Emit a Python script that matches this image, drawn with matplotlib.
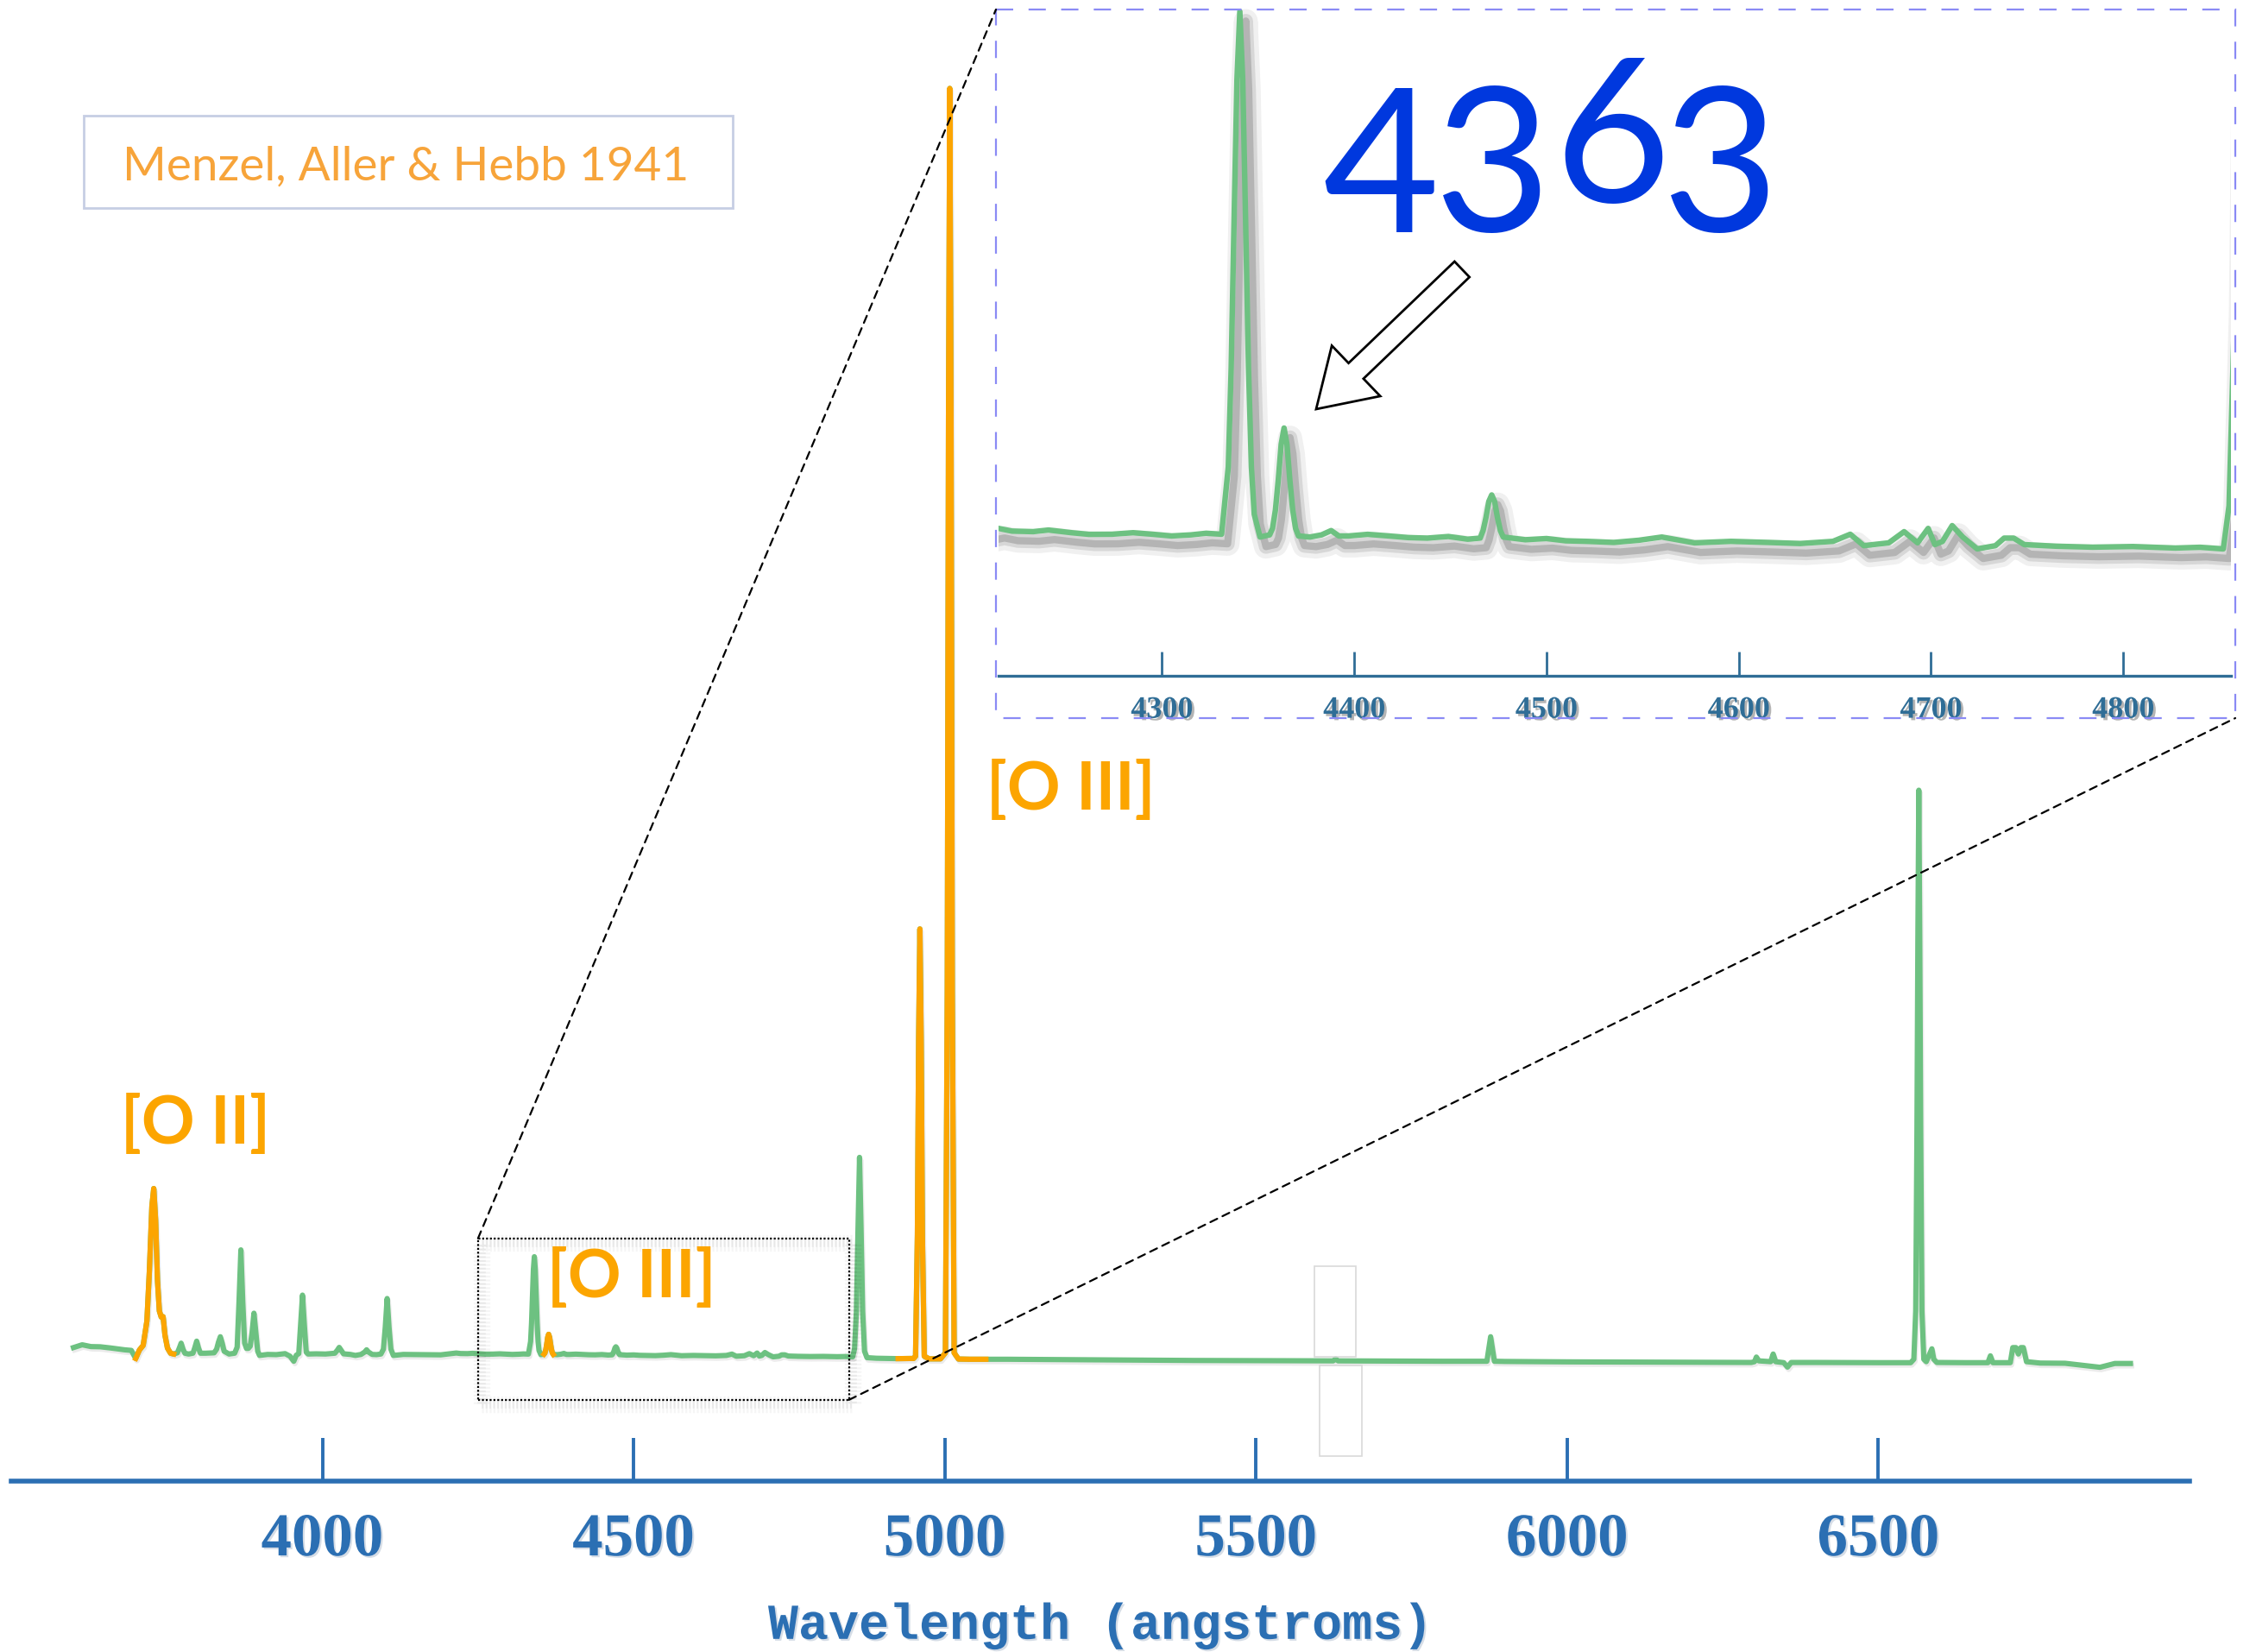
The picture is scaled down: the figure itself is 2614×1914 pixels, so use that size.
import numpy as np
import matplotlib
matplotlib.use('Agg')
import matplotlib.pyplot as plt
import matplotlib.patheffects as pe
from matplotlib.patches import Rectangle, FancyArrow, ConnectionPatch

W, H = 2614, 1915

# spectrum of the nebula, relative flux (H-beta ~ 100), read in three stretches
wave_blue = [3600, 3614, 3628, 3643, 3660, 3682, 3693, 3700, 3706, 3712,
             3718, 3722, 3726, 3729, 3732, 3735, 3738, 3741, 3744, 3747,
             3751, 3756, 3761, 3767, 3770, 3773, 3776, 3779, 3785, 3792,
             3795, 3798, 3801, 3804, 3812, 3826, 3830, 3833, 3836, 3839,
             3842, 3850, 3859, 3863, 3866, 3869, 3872, 3875, 3878, 3881,
             3884, 3887, 3890, 3893, 3896, 3899, 3912, 3926, 3940, 3948,
             3954, 3958, 3962, 3965, 3968, 3971, 3974, 3977, 3990, 4005,
             4020, 4024, 4027, 4030, 4034, 4045, 4053, 4062, 4068, 4071,
             4074, 4080, 4087, 4094, 4098, 4101, 4104, 4107, 4110, 4114,
             4130, 4160, 4190]
flux_blue = [11.8, 13.2, 12.3, 12.2, 11.6, 10.7, 10.4, 6.4, 10.6, 12.9,
             25.0, 50.0, 82.0, 90.9, 75.0, 45.0, 30.0, 27.0, 27.2, 18.0,
             11.6, 9.0, 8.6, 9.2, 11.5, 14.0, 11.0, 9.0, 8.6, 9.0,
             11.8, 15.0, 11.5, 9.0, 9.0, 9.2, 11.0, 14.5, 17.2, 14.0,
             10.0, 8.6, 9.0, 12.0, 34.7, 60.4, 34.7, 14.0, 11.4, 11.4,
             12.5, 19.5, 28.9, 19.5, 10.0, 7.9, 8.4, 8.3, 8.8, 7.5,
             5.0, 8.0, 8.8, 23.0, 37.9, 23.0, 9.5, 8.6, 8.7, 8.6,
             9.0, 10.5, 11.9, 10.5, 8.7, 8.4, 7.9, 8.4, 9.6, 10.7,
             9.6, 8.4, 8.3, 8.6, 11.0, 22.0, 36.2, 22.0, 11.0, 7.9,
             8.4, 8.3, 8.2]

wave_mid = [4215, 4222, 4233, 4241, 4253, 4262, 4274, 4285, 4295, 4305,
            4315, 4323, 4331, 4334.5, 4336, 4337.5, 4339, 4340.5, 4342, 4343.5,
            4345, 4346.5, 4348, 4351, 4356, 4357.5, 4359, 4360.5, 4362, 4363.5,
            4365, 4366.5, 4368, 4369.5, 4371, 4377, 4383, 4388, 4392, 4397,
            4407, 4418, 4428, 4438, 4449, 4459, 4465.5, 4467, 4468.5, 4470,
            4471.5, 4473, 4474.5, 4476, 4477.5, 4489, 4500, 4510, 4521, 4535,
            4548, 4560, 4577, 4596, 4615, 4632, 4649, 4658, 4665, 4678,
            4686, 4693, 4698.5, 4702, 4706, 4711, 4716.5, 4724, 4733.5, 4738,
            4743, 4748.5, 4765, 4784, 4805, 4827, 4840, 4852]
flux_mid = [9.1, 8.85, 8.8, 8.95, 8.7, 8.55, 8.56, 8.7, 8.56, 8.4,
            8.5, 8.65, 8.56, 14.8, 24.0, 37.6, 50.7, 57.0, 50.7, 37.6,
            24.0, 14.8, 10.4, 8.3, 8.5, 9.1, 10.8, 13.6, 16.9, 18.4,
            16.9, 13.6, 10.8, 9.1, 8.4, 8.3, 8.5, 8.9, 8.4, 8.4,
            8.55, 8.4, 8.25, 8.2, 8.35, 8.1, 8.2, 8.9, 10.1, 11.6,
            12.2, 11.6, 10.1, 8.9, 8.3, 8.05, 8.16, 7.95, 7.9, 7.8,
            8.0, 8.3, 7.76, 7.9, 7.8, 7.7, 7.9, 8.56, 7.5, 7.76,
            8.8, 7.76, 9.1, 7.6, 7.9, 9.36, 8.3, 7.2, 7.5, 8.2,
            8.2, 7.6, 7.45, 7.36, 7.42, 7.28, 7.35, 7.2]

wave_red = [4855, 4858, 4860.5, 4863, 4865.5, 4868, 4871, 4875, 4890, 4910,
            4925, 4950, 4953, 4956, 4958, 4960, 4962, 4964, 4967, 4975,
            4993, 5001, 5004, 5006, 5008, 5010, 5012, 5015, 5022, 5040,
            5066, 5100, 5200, 5300, 5400, 5500, 5560, 5624, 5628, 5632,
            5700, 5800, 5871, 5874, 5877, 5880, 5883, 5900, 6000, 6100,
            6200, 6296, 6301, 6304, 6308, 6327, 6331, 6335, 6348, 6354,
            6360, 6400, 6500, 6552, 6557, 6560, 6562, 6563.5, 6565, 6566.5,
            6568, 6570, 6573, 6577, 6583, 6586, 6589, 6594, 6640, 6676,
            6680, 6684, 6712, 6716, 6721, 6725, 6729, 6733, 6738, 6760,
            6800, 6856, 6880, 6905]
flux_red = [11.2, 30.0, 70.0, 106.4, 70.0, 30.0, 10.0, 6.8, 6.5, 6.4,
            6.3, 6.4, 7.5, 68.0, 165.0, 220.0, 165.0, 68.0, 7.5, 6.2,
            6.2, 9.2, 189.0, 474.0, 638.0, 474.0, 189.0, 9.2, 6.1, 6.0,
            6.0, 6.0, 5.8, 5.6, 5.4, 5.3, 5.2, 5.2, 6.2, 5.2,
            5.1, 5.0, 5.0, 11.1, 17.2, 11.1, 5.0, 4.9, 4.7, 4.6,
            4.5, 4.4, 4.8, 7.1, 5.2, 4.8, 8.6, 4.8, 4.3, 2.1,
            4.4, 4.4, 4.3, 4.3, 6.0, 30.0, 120.0, 215.0, 289.0, 215.0,
            120.0, 30.0, 6.0, 4.8, 9.0, 11.2, 6.0, 4.4, 4.3, 4.3,
            7.7, 4.3, 4.3, 11.8, 11.8, 8.6, 11.8, 11.8, 4.8, 4.1,
            4.0, 2.0, 3.9, 3.9]

# forbidden oxygen lines drawn in orange
oxygen_ranges = [(3698, 3762), (4355, 4373), (4920, 5066)]

main_ticks = [4000, 4500, 5000, 5500, 6000, 6500]
main_labels = ['4000', '4500', '5000', '5500', '6000', '6500']
inset_ticks = [4300, 4400, 4500, 4600, 4700, 4800]
inset_labels = ['4300', '4400', '4500', '4600', '4700', '4800']

main_xlim = (3500, 7000)
main_ylim = (-54.6, 682.4)
inset_xlim = (4215, 4856)
inset_ylim = (-4.56, 57.5)
zoom_box = (4250, 4846, -14.2, 66.1)   # lo, hi wavelength, lo, hi flux

GREEN = '#6dc181'
ORANGE = '#fca500'
BLUE = '#2b6fb3'
INSET_BLUE = '#2f6d96'
LABEL_ORANGE = '#f7a43a'

wave = np.array(wave_blue + wave_mid + wave_red)
flux = np.array(flux_blue + flux_mid + flux_red)


def px_rect(left, top, right, bottom):
    return [left / W, 1 - bottom / H, (right - left) / W, (bottom - top) / H]


fig = plt.figure(figsize=(W / 100, H / 100), dpi=100)
fig.patch.set_facecolor('white')

# main spectrum
ax = fig.add_axes(px_rect(13, 0, 2537, 1717), zorder=1)
ax.set_xlim(*main_xlim)
ax.set_ylim(*main_ylim)
ax.plot(wave, flux, color=GREEN, lw=4.4, solid_joinstyle='round',
        path_effects=[pe.SimpleLineShadow(offset=(1, -2), shadow_color='k', alpha=0.08),
                      pe.Normal()])
for lo, hi in oxygen_ranges:
    m = (wave >= lo) & (wave <= hi)
    ax.plot(wave[m], flux[m], color=ORANGE, lw=4.4, solid_joinstyle='round')

for s in ['top', 'left', 'right']:
    ax.spines[s].set_visible(False)
ax.spines['bottom'].set_color(BLUE)
ax.spines['bottom'].set_linewidth(4)
ax.set_yticks([])
ax.set_xticks(main_ticks, labels=main_labels, fontsize=51, fontweight='bold',
              fontfamily='Liberation Serif', color=BLUE,
              path_effects=[pe.withSimplePatchShadow(offset=(1.5, -1.5),
                                                     shadow_rgbFace='#8aa0b8', alpha=0.35)])
ax.tick_params(axis='x', direction='in', length=36, width=2.8, color=BLUE, pad=26)
ax.set_xlabel('Wavelength (angstroms)', fontsize=42, fontweight='bold',
              fontfamily='Liberation Mono', color=BLUE,
              path_effects=[pe.withSimplePatchShadow(offset=(1.5, -1.5),
                                                     shadow_rgbFace='#8aa0b8', alpha=0.35)])
ax.xaxis.set_label_coords(0.5, -0.082)
ax.patch.set_visible(False)

# dotted box marking the zoomed range
zl, zh, fl, fh = zoom_box
ax.add_patch(Rectangle((zl, fl), zh - zl, fh - fl, fill=False, ec='k', lw=1.6,
                       ls=(0, (1, 1)), zorder=4,
                       path_effects=[pe.SimpleLineShadow(offset=(3, -4), shadow_color='k',
                                                         alpha=0.04, linewidth=14),
                                     pe.SimpleLineShadow(offset=(3, -4), shadow_color='k',
                                                         alpha=0.05, linewidth=7),
                                     pe.Normal()]))

# zoomed inset around H-gamma and [O III] 4363
ins = fig.add_axes(px_rect(1157, 8, 2585, 784), zorder=3)
ins.set_xlim(*inset_xlim)
ins.set_ylim(*inset_ylim)
line_shadow = [pe.SimpleLineShadow(offset=(5, -8), shadow_color='k', alpha=0.06, linewidth=20),
               pe.SimpleLineShadow(offset=(5, -8), shadow_color='k', alpha=0.10, linewidth=12),
               pe.SimpleLineShadow(offset=(5, -8), shadow_color='k', alpha=0.16, linewidth=6),
               pe.Normal()]
ins.plot(wave, flux, color=GREEN, lw=4.6, solid_joinstyle='round', path_effects=line_shadow)
for s in ['top', 'left', 'right']:
    ins.spines[s].set_visible(False)
ins.spines['bottom'].set_color(INSET_BLUE)
ins.spines['bottom'].set_linewidth(2.4)
ins.set_yticks([])
ins.set_xticks(inset_ticks, labels=inset_labels, fontsize=26, fontweight='bold',
               fontfamily='Liberation Serif', color=INSET_BLUE,
               path_effects=[pe.withSimplePatchShadow(offset=(2, -2),
                                                      shadow_rgbFace='0.35', alpha=0.45)])
ins.tick_params(axis='x', direction='in', length=20, width=2.0, color=INSET_BLUE, pad=17)
ins.patch.set_visible(False)

# overlay in pixel units for the annotations
ov = fig.add_axes([0, 0, 1, 1], zorder=5)
ov.set_xlim(0, W)
ov.set_ylim(H, 0)
ov.axis('off')

ov.add_patch(Rectangle((1154, 12), 2590 - 1154, 833 - 12, fill=False, ec='#8a8af5',
                       lw=1.6, ls=(0, (9, 8))))
for xyA, xyB in [((zl, fh), (1154, 12)), ((zh, fl), (2590, 833))]:
    con = ConnectionPatch(xyA=xyA, coordsA=ax.transData, xyB=xyB, coordsB=ov.transData,
                          color='k', lw=1.6, ls=(0, (4, 3)), zorder=6)
    fig.add_artist(con)

# faint leftover frames around 5650 A
ov.add_patch(Rectangle((1523, 1468), 48, 105, fill=False, ec='#d9d9d9', lw=1.2))
ov.add_patch(Rectangle((1529, 1583), 49, 105, fill=False, ec='#d9d9d9', lw=1.2))

# reference box
ov.add_patch(Rectangle((97, 135), 849 - 97, 242 - 135, fill=False, ec='#c6cee4', lw=2))
ov.text(470, 209, 'Menzel, Aller & Hebb 1941', fontsize=39.5, family='Lato',
        color=LABEL_ORANGE, ha='center', va='baseline')

for x, y, s in [(227, 1303, '[O II]'), (732, 1481, '[O III]'), (1241, 916, '[O III]')]:
    ov.text(x, y, s, fontsize=55, family='Lato', fontweight='bold', color=ORANGE,
            ha='center', va='center')

# big label with old-style figures
for x, base, d in [(1600, 269, '4'), (1730, 268, '3'), (1868, 234, '6'), (1994, 268, '3')]:
    ov.text(x, base, d, fontsize=168, family='Lato', color='#0038de',
            ha='center', va='baseline')

ov.add_patch(FancyArrow(1694, 313, 1525 - 1694, 475 - 313, width=25, head_width=81,
                        head_length=64, length_includes_head=True, fc='white', ec='k', lw=2))

fig.savefig('out.png', dpi=100, facecolor='white')
